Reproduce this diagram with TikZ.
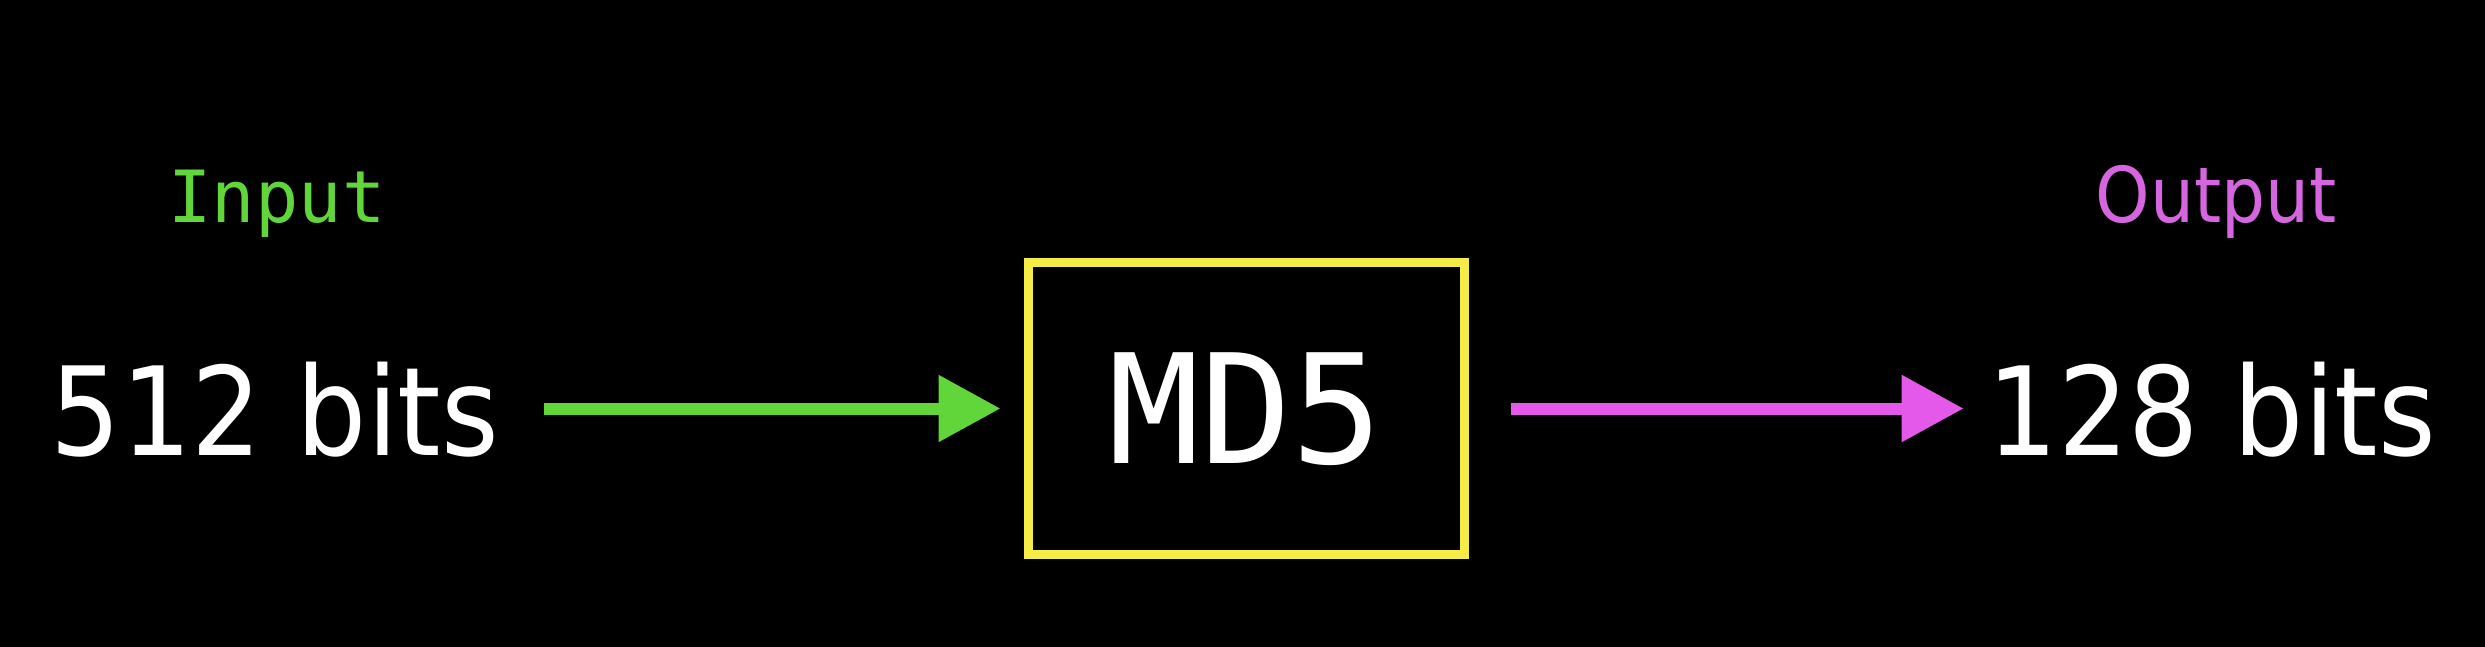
\documentclass[tikz,border=0pt]{standalone}
\usepackage{fontspec}
\setmainfont{DejaVu Sans}
\newfontfamily\condfont{DejaVu Sans Condensed}
\newfontfamily\monofont{DejaVu Sans Mono}
\usetikzlibrary{arrows.meta}
\definecolor{ingreen}{RGB}{96,214,58}
\definecolor{outmag}{RGB}{228,88,234}
\definecolor{outtxt}{RGB}{214,102,224}
\definecolor{boxyel}{RGB}{246,236,70}
\tikzset{
  bits/.style={text=white,inner sep=0pt,anchor=base,font=\condfont\fontsize{123}{130}\selectfont},
  lbl/.style={inner sep=0pt,anchor=base},
  flow/.style={line width=12pt,-{Triangle[length=62pt,width=64pt]}},
  hashbox/.style={draw=boxyel,line width=9pt,minimum width=436pt,minimum height=292pt,inner sep=0pt}
}
\begin{document}
\begin{tikzpicture}[x=1pt,y=-1pt]
\useasboundingbox (0,0) rectangle (2485,646);
\fill[black] (-10,-10) rectangle (2495,656);
\node[hashbox] (md5) at (1246,408.5) {};
\node[text=white,inner sep=0pt,anchor=base,font=\monofont\fontsize{152}{160}\selectfont] (md5t) at (1246,463) {MD5};
\node[bits] (in) at (275,455) {512 bits};
\node[bits] (out) at (2212,455) {128 bits};
\node[lbl,text=ingreen,font=\monofont\fontsize{72}{80}\selectfont] (inl) at (277,222) {Input};
\node[lbl,text=outtxt,font=\condfont\fontsize{77}{84}\selectfont] (outl) at (2216,222) {Output};
\draw[flow,draw=ingreen,fill=ingreen,shorten <=45pt,shorten >=23pt] (in.east |- md5.west) -- (md5.west);
\draw[flow,draw=outmag,fill=outmag,shorten <=42pt,shorten >=24pt] (md5.east) -- (out.west |- md5.east);
\end{tikzpicture}
\end{document}
